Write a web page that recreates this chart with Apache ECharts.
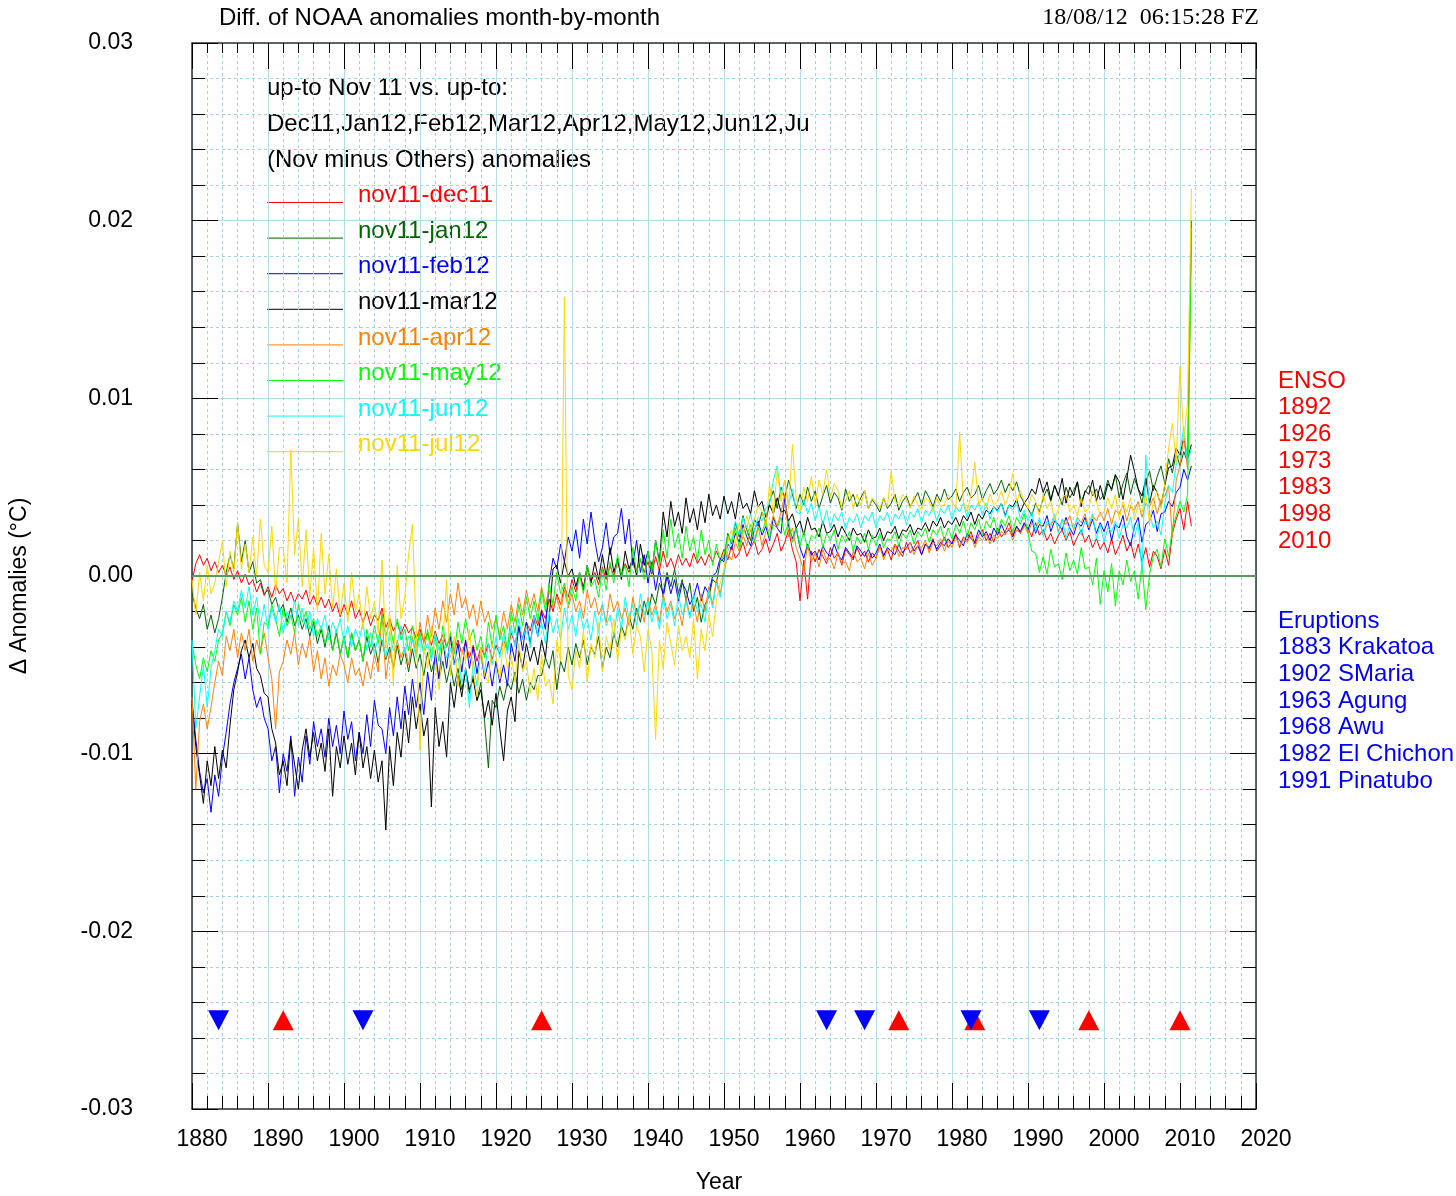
<!DOCTYPE html>
<html>
<head>
<meta charset="utf-8">
<script src="https://cdn.jsdelivr.net/npm/echarts@6/dist/echarts.min.js"></script>
<style>
html,body{margin:0;padding:0;background:#fff;}
#chart{width:1456px;height:1196px;}
</style>
</head>
<body>
<div id="chart"></div>
<script>
// Values are in units of 0.001 °C, sampled every half year from 1880.0
const startYear = 1880;
const stepYear = 0.5;

const dec11 = [
-0.3,0.7,1.2,0.6,1.0,0.3,0.8,0.2,0.6,0.0,0.5,-0.2,0.3,-0.4,0.1,-0.5,-0.2,-0.9,-0.4,-1.1,
-0.6,-1.2,-0.5,-1.0,-0.7,-1.4,-0.9,-1.5,-1.0,-1.3,-0.8,-1.6,-1.1,-1.7,-1.2,-1.8,-1.3,-2.0,-1.5,-2.3,
-1.6,-2.2,-1.4,-2.4,-1.9,-2.6,-2.0,-2.8,-2.2,-2.5,-1.8,-2.9,-2.4,-3.1,-2.6,-3.3,-2.7,-3.2,-2.9,-3.5,
-3.0,-3.7,-3.2,-3.9,-3.1,-3.8,-3.3,-4.0,-3.4,-4.2,-3.6,-4.4,-3.7,-4.6,-3.9,-4.8,-4.0,-4.5,-3.8,-4.7,
-3.9,-4.4,-3.6,-4.2,-3.2,-3.8,-2.9,-3.5,-2.6,-3.1,-2.2,-2.8,-1.9,-2.4,-1.3,-2.0,-1.0,-1.6,-0.6,-1.2,
-0.2,-0.9,0.1,-0.6,0.4,-0.3,0.2,-0.5,0.5,-0.2,0.6,0.0,0.8,0.1,0.7,0.2,1.0,0.3,0.9,0.2,
0.8,0.1,1.1,0.3,1.4,0.5,1.0,0.4,1.2,0.6,1.0,0.5,1.3,0.7,1.1,0.6,1.2,0.8,1.4,0.9,
1.5,0.9,1.7,1.0,1.3,1.9,1.1,1.6,2.0,1.2,1.5,2.1,1.3,1.8,2.4,1.4,1.9,2.6,1.5,0.8,
-1.4,0.9,-1.3,1.4,0.8,1.5,1.1,0.7,1.6,1.0,1.3,0.6,1.5,1.2,0.9,1.6,1.1,1.4,0.8,1.3,
1.0,1.7,1.2,1.5,0.9,1.8,1.4,1.1,1.9,1.3,1.6,2.0,1.2,1.8,1.5,2.1,1.4,1.7,2.2,1.6,
1.9,2.4,1.6,2.2,2.0,2.5,1.8,2.3,2.6,2.0,2.4,1.9,2.7,2.2,2.5,3.0,2.3,2.8,2.4,2.9,
2.7,2.2,3.0,2.3,2.6,2.0,2.4,1.8,2.3,2.6,2.0,2.5,1.7,2.2,2.6,1.9,2.3,1.6,2.1,1.5,
1.9,1.3,2.1,1.2,1.7,2.3,1.4,1.9,1.0,1.8,0.8,1.6,0.5,1.4,1.1,0.4,1.5,0.6,2.4,3.2,
3.8,2.6,4.2,2.8];

const jan12 = [
-1.0,-1.8,-2.4,-1.6,-3.0,-2.2,-3.2,-2.4,-1.2,0.2,1.2,0.4,3.0,0.8,2.0,0.2,0.8,-0.4,-0.2,-1.0,
-0.8,-1.6,-1.2,-2.0,-1.6,-2.6,-1.8,-2.8,-2.2,-3.0,-2.4,-3.4,-2.6,-3.8,-3.0,-4.0,-2.8,-4.2,-3.2,-4.4,
-3.4,-4.6,-3.2,-4.2,-3.6,-4.8,-3.4,-4.4,-3.8,-4.9,-3.6,-4.7,-4.0,-5.2,-3.9,-5.0,-4.2,-5.4,-4.1,-5.2,
-4.4,-5.6,-4.3,-5.4,-4.6,-5.8,-4.8,-6.0,-5.0,-6.2,-5.2,-6.4,-5.4,-6.6,-5.6,-7.0,-6.0,-8.2,-10.8,-7.0,
-7.4,-6.2,-7.0,-6.0,-6.4,-5.4,-6.6,-5.8,-7.0,-6.0,-6.4,-5.6,-5.6,-4.6,-5.2,-4.2,-6.4,-4.8,-5.4,-4.0,
-5.0,-3.8,-4.6,-3.6,-5.0,-4.0,-4.4,-3.4,-5.2,-4.0,-4.6,-3.2,-4.0,-2.8,-3.4,-2.2,-3.0,-1.8,-2.6,-1.4,
-2.2,-1.0,-1.6,-0.4,-1.0,0.2,-0.6,0.4,-1.0,-0.2,-1.4,-0.4,-2.0,-1.2,-2.6,-1.6,-1.2,-0.2,-0.4,0.8,
1.0,2.4,1.8,3.0,2.2,3.4,2.6,2.0,3.2,2.8,3.6,3.0,4.2,4.8,3.8,5.0,4.4,5.4,4.6,3.8,
4.6,4.0,5.0,4.2,4.8,3.8,4.5,5.1,4.1,4.7,4.4,3.7,4.9,4.2,4.6,3.9,4.4,4.8,3.8,4.3,
4.0,3.6,4.4,3.8,4.1,4.6,3.7,4.2,4.5,3.9,4.3,4.7,4.0,4.8,4.4,3.9,4.6,4.2,4.9,4.3,
4.5,4.9,4.2,4.7,5.0,4.4,4.6,5.1,4.3,4.8,5.2,4.6,4.9,5.4,4.7,5.2,4.8,5.3,4.5,4.1,
3.8,3.4,4.1,3.6,4.4,4.9,4.2,5.1,4.6,4.0,5.0,4.4,4.8,5.3,4.2,4.7,5.1,4.5,4.9,4.3,
4.6,5.4,4.8,5.7,4.4,5.2,5.8,4.6,5.5,4.9,4.1,5.3,5.9,4.8,5.6,6.2,5.2,6.6,5.8,6.9,
6.2,7.0,6.4,20.0];

const feb12 = [
-7.0,-9.2,-11.0,-12.2,-11.4,-13.3,-11.2,-12.4,-10.2,-8.8,-7.2,-6.0,-5.2,-4.4,-5.8,-4.6,-6.4,-7.4,-6.8,-8.0,
-8.6,-10.4,-9.6,-12.2,-10.0,-11.0,-9.0,-12.4,-10.2,-11.6,-9.0,-10.6,-8.2,-9.6,-8.6,-10.2,-8.0,-9.6,-8.4,-10.0,
-7.6,-9.2,-8.2,-10.4,-8.8,-10.0,-7.8,-9.6,-7.0,-8.4,-8.6,-10.0,-7.4,-9.0,-6.8,-8.6,-6.2,-7.8,-5.8,-7.4,
-6.0,-7.8,-5.4,-7.0,-4.2,-5.8,-3.6,-5.2,-3.4,-5.0,-3.8,-5.4,-3.6,-5.2,-4.0,-5.5,-4.2,-5.8,-4.8,-6.2,
-4.8,-6.0,-5.0,-6.2,-3.8,-4.8,-2.8,-4.2,-2.6,-3.8,-2.4,-3.4,-2.0,-3.0,-0.4,1.0,0.4,1.8,0.8,2.2,
1.4,2.6,1.0,3.2,1.8,3.6,2.0,0.8,1.6,3.0,1.2,2.2,2.4,3.8,1.8,3.2,0.6,2.0,0.2,1.2,
-0.4,0.8,-0.8,0.4,-1.2,0.0,-1.0,-0.2,-1.4,-0.4,-0.8,-1.6,-1.2,-0.4,-1.4,-0.6,-1.0,0.0,0.2,1.0,
0.8,1.8,1.5,2.4,1.9,2.9,2.2,1.7,2.6,3.1,2.3,2.8,2.0,3.3,2.7,2.4,4.4,2.8,2.1,2.7,
1.6,1.0,1.8,1.2,1.4,0.9,1.7,1.3,1.1,1.8,1.2,0.9,1.6,1.3,1.0,1.7,1.4,1.1,1.5,1.0,
1.3,1.8,1.1,1.6,1.4,1.2,1.8,1.3,1.6,1.9,1.4,1.7,1.2,1.8,1.6,2.0,1.5,1.9,1.7,2.1,
1.8,2.3,2.0,1.7,2.4,2.1,1.9,2.6,2.2,2.5,2.0,2.7,2.3,2.9,2.4,2.6,2.2,2.8,2.5,3.0,
2.6,3.2,2.4,2.9,2.8,3.4,2.5,3.1,2.9,2.6,3.3,2.7,2.3,3.0,2.8,3.3,2.6,3.2,2.4,3.0,
2.5,3.1,2.0,2.9,2.7,3.4,2.2,1.7,2.8,3.3,1.9,2.9,3.1,3.7,2.5,3.5,3.6,4.2,3.9,4.7,
5.0,6.0,5.4,6.2];

const mar12 = [
-7.2,-9.6,-11.2,-12.8,-10.4,-11.8,-9.6,-11.4,-9.8,-10.8,-8.4,-6.4,-5.4,-4.2,-3.6,-4.6,-3.8,-5.2,-5.6,-6.6,
-6.8,-8.6,-9.4,-11.2,-10.4,-11.8,-9.2,-10.6,-12.0,-9.8,-8.6,-10.2,-8.8,-10.4,-9.4,-11.0,-8.6,-12.4,-9.6,-10.8,
-9.0,-10.6,-9.4,-11.2,-8.8,-10.8,-9.6,-11.4,-9.8,-11.6,-10.4,-14.3,-9.6,-11.8,-8.8,-10.2,-7.6,-9.4,-6.8,-8.6,
-7.2,-9.0,-8.0,-13.0,-7.4,-9.6,-8.2,-10.2,-6.0,-7.4,-5.6,-6.8,-5.2,-6.4,-5.8,-7.0,-6.4,-8.0,-7.0,-8.4,
-6.6,-8.6,-10.4,-7.6,-6.8,-8.2,-4.2,-5.2,-3.8,-4.8,-4.0,-5.0,-3.6,-4.6,-2.4,0.4,0.6,-0.4,0.8,0.0,
0.4,-0.6,0.2,-0.8,0.6,-0.4,0.8,-0.2,1.2,0.0,1.6,0.2,1.0,-0.2,1.4,0.4,1.0,0.0,1.8,0.6,
1.4,0.2,2.0,0.8,3.6,2.2,4.2,2.8,3.6,2.4,4.4,3.0,3.8,2.6,4.2,3.0,4.6,3.4,4.0,3.2,
4.5,3.5,4.2,3.2,4.7,3.8,4.1,3.5,4.8,3.9,4.2,3.3,4.0,3.5,4.4,3.6,3.7,3.1,3.5,2.7,
3.1,2.3,3.3,2.6,2.7,2.2,3.1,2.4,2.5,2.9,2.2,2.8,2.4,2.0,2.7,2.3,2.4,1.9,2.6,2.1,
2.2,2.7,2.0,2.5,2.4,2.8,2.1,2.6,2.5,2.9,2.3,2.7,2.6,3.0,2.5,3.1,2.8,3.3,2.7,3.1,
2.9,3.3,2.8,3.4,3.1,3.6,2.9,3.5,3.2,3.7,3.5,3.9,3.7,4.1,3.4,4.0,3.9,4.3,3.6,4.1,
4.4,4.9,4.6,5.5,4.7,5.3,4.3,5.1,4.5,5.5,4.1,5.0,4.5,5.3,3.9,4.8,4.6,5.4,4.2,5.1,
4.3,5.2,4.9,5.7,5.3,4.3,5.5,6.8,5.9,4.9,4.5,5.5,4.1,5.1,4.7,3.9,5.1,6.1,6.2,7.2,
6.8,7.8,6.6,7.4];

const apr12 = [
-6.8,-12.0,-8.2,-7.2,-8.6,-7.4,-6.0,-4.8,-5.6,-3.4,-4.2,-3.0,-4.6,-3.2,-4.2,-3.0,-4.8,-3.6,-4.4,-3.2,
-4.6,-5.8,-8.6,-5.4,-4.8,-3.6,-4.4,-3.2,-5.0,-3.8,-4.6,-3.4,-5.4,-4.2,-5.8,-4.6,-6.2,-5.0,-5.6,-4.4,
-5.0,-6.0,-4.6,-5.6,-5.2,-6.2,-4.8,-5.8,-4.4,-5.4,-2.0,-5.8,-4.2,-5.2,-3.6,-4.6,-4.0,-5.0,-3.4,-4.4,
-2.6,-3.8,-2.2,-3.4,-1.8,-3.0,-1.4,-2.6,-1.0,-2.2,-0.4,-1.8,-1.2,-2.4,-1.6,-2.8,-1.4,-2.6,-2.0,-3.0,
-2.4,-3.4,-2.0,-3.0,-1.6,-2.6,-1.2,-2.2,-0.8,-1.8,-1.0,-2.0,-0.6,-1.6,-0.8,-1.8,-1.2,-2.0,-0.8,-1.8,
-1.0,-2.0,-1.4,-2.4,-0.8,-1.8,-1.2,-2.2,-1.6,-2.6,-1.0,-2.0,-1.4,-2.4,-1.8,-2.8,-1.2,-2.2,-1.6,-2.6,
-1.2,-2.2,-1.6,-2.6,-1.0,-2.0,-1.4,-2.4,-1.8,-2.8,-1.2,-2.2,-1.6,-2.6,-1.0,-2.0,-0.6,-1.6,-0.2,-1.0,
0.2,1.2,0.9,1.9,1.4,2.3,1.7,2.6,2.0,2.8,1.7,2.5,2.6,3.4,2.8,3.6,4.6,2.2,2.7,1.6,
1.0,0.3,1.7,0.8,1.3,0.5,1.5,0.9,1.0,0.4,1.3,0.7,0.8,0.3,1.4,0.8,1.0,0.4,1.3,0.6,
1.0,1.7,0.9,1.5,1.4,1.8,1.1,1.6,1.5,1.9,1.2,1.7,1.6,2.0,1.3,1.9,1.7,2.1,1.4,2.0,
1.6,2.2,1.7,2.0,1.9,2.3,1.6,2.2,2.0,2.4,1.8,2.3,2.1,2.5,2.3,2.7,2.0,2.6,2.4,2.8,
2.4,3.0,2.7,3.1,2.3,2.9,2.8,3.3,2.5,3.2,2.9,3.4,2.6,3.3,3.0,3.5,2.7,3.4,3.1,3.6,
3.1,3.8,2.9,3.7,3.5,4.0,3.1,3.9,3.7,4.2,3.3,4.1,3.9,4.4,3.5,4.3,4.5,5.1,2.2,5.4,
6.2,7.8,6.0,19.6];

const may12 = [
-3.8,-5.0,-5.8,-4.6,-5.4,-4.2,-4.8,-3.6,-3.2,-2.0,-2.8,-1.6,-2.2,-1.2,-2.6,-1.4,-3.0,-1.8,-4.4,-2.6,
-2.8,-1.6,-2.4,-3.4,-1.8,-2.8,-2.2,-3.2,-1.6,-2.6,-2.0,-3.0,-2.4,-3.4,-2.8,-3.8,-3.2,-4.2,-3.0,-4.4,
-3.4,-4.6,-3.2,-4.2,-3.6,-4.8,-3.0,-4.0,-2.8,-3.8,-2.2,-3.4,-2.6,-3.8,-2.4,-3.6,-3.0,-4.2,-2.8,-4.0,
-3.2,-4.4,-3.0,-4.6,-3.4,-4.8,-2.8,-4.0,-3.2,-4.4,-2.6,-3.8,-2.4,-3.6,-3.0,-4.2,-3.4,-4.6,-2.6,-4.0,
-2.2,-3.6,-2.8,-4.2,-2.0,-3.2,-1.6,-2.8,-1.2,-2.4,-1.4,-2.6,-0.8,-2.0,-0.4,-1.6,0.2,-1.0,-0.4,-1.6,
-0.6,-1.4,0.2,-1.0,0.6,-0.6,-0.2,-1.2,0.4,-0.8,0.8,-0.4,1.2,0.0,0.6,-0.6,1.6,0.2,1.0,-0.2,
1.4,0.2,2.0,0.6,2.6,1.0,3.2,1.6,2.4,1.0,2.8,1.4,2.2,0.8,2.6,1.2,2.0,0.6,1.8,0.8,
1.2,2.3,1.9,2.7,1.6,2.6,2.3,2.9,1.9,2.7,2.5,3.1,2.1,2.9,2.7,3.3,2.3,3.1,1.9,2.7,
1.7,2.5,1.5,2.3,2.1,2.7,1.6,2.4,2.0,2.6,1.5,2.3,1.9,2.5,1.4,2.2,1.8,2.4,1.5,2.3,
1.7,2.4,1.6,2.1,2.0,2.5,1.7,2.4,2.1,2.6,1.8,2.5,2.2,2.7,1.9,2.6,2.3,2.8,2.0,2.7,
2.1,2.9,2.4,3.1,2.2,3.0,2.6,3.2,2.3,3.1,2.7,3.3,2.4,3.2,2.8,3.4,2.5,3.3,2.9,3.5,
2.4,1.4,1.3,0.2,1.1,0.1,1.5,0.5,0.7,-0.2,1.3,0.3,0.9,0.1,1.6,0.4,0.5,-0.5,1.0,-1.6,
0.3,-0.9,0.7,-1.7,0.3,-0.5,0.9,-0.3,0.3,-1.3,0.7,-1.9,0.1,1.1,1.5,0.5,2.1,1.1,2.7,3.4,
4.2,3.6,4.6,18.6];

const jun12 = [
-3.6,-8.6,-6.8,-5.0,-7.4,-5.2,-4.2,-3.0,-3.4,-2.0,-2.6,-1.4,-2.0,-0.8,-1.8,-0.6,-2.2,-1.2,-2.8,-1.6,
-3.0,-1.8,-2.6,-1.6,-3.2,-2.0,-2.4,-1.4,-2.8,-1.8,-3.0,-2.0,-3.4,-2.4,-3.0,-2.2,-3.6,-2.6,-3.2,-2.4,
-3.8,-2.8,-4.0,-3.0,-3.6,-2.6,-4.2,-3.2,-4.4,-3.4,-3.6,-4.6,-3.2,-4.2,-3.8,-2.8,-4.4,-3.4,-3.6,-4.6,
-3.4,-4.4,-3.8,-4.8,-3.2,-4.2,-3.6,-4.6,-4.0,-5.0,-4.6,-6.0,-5.2,-7.4,-4.8,-6.2,-4.2,-5.4,-3.8,-5.0,
-3.4,-4.6,-3.2,-4.4,-2.8,-4.0,-2.4,-3.6,-2.8,-4.0,-2.2,-3.4,-2.6,-3.8,-2.0,-3.2,-2.4,-3.6,-1.8,-3.0,
-2.2,-3.4,-1.8,-3.0,-2.4,-3.6,-2.0,-3.2,-1.6,-2.8,-2.2,-3.4,-1.8,-3.0,-1.2,-2.4,-1.6,-2.8,-1.0,-2.2,
-1.4,-2.6,-1.8,-3.0,-1.2,-2.4,-1.6,-2.8,-1.0,-2.2,-1.4,-2.4,-1.0,-2.0,-1.6,-2.6,-0.8,-1.8,-0.4,-1.2,
0.2,1.4,2.0,3.1,2.3,3.3,2.7,3.5,2.5,3.3,3.1,3.8,4.1,5.4,6.2,4.5,5.4,4.0,4.9,3.6,
3.5,4.3,3.5,4.1,3.1,3.9,2.9,3.7,2.7,3.5,3.1,3.6,2.6,3.3,3.0,3.5,2.7,3.4,3.1,3.6,
2.7,3.4,3.1,3.6,2.8,3.5,3.2,3.7,2.9,3.6,3.3,3.8,3.0,3.7,3.4,3.9,3.1,3.8,3.5,4.0,
3.2,3.9,3.6,4.1,3.3,4.0,3.7,4.2,3.4,4.1,3.2,3.9,3.6,4.1,3.3,4.0,3.7,4.2,3.2,3.7,
3.1,3.6,2.5,3.3,2.3,3.1,2.9,3.5,2.4,3.2,2.1,2.9,2.7,3.3,2.3,3.1,2.9,3.5,2.1,2.9,
1.9,2.7,2.5,3.1,2.1,2.9,2.7,3.3,2.2,3.0,0.2,6.8,3.5,2.7,3.1,2.3,4.1,5.1,4.7,6.3,
7.0,8.4,6.4,7.2];

const jul12 = [
-0.2,-2.2,0.2,-1.4,0.6,-1.0,-0.4,0.8,2.0,-0.6,1.4,0.2,3.0,0.4,1.8,0.2,2.2,0.0,3.2,0.6,
0.2,2.8,-1.0,1.6,1.6,-0.4,7.1,1.2,3.2,-0.6,2.6,-1.2,1.6,-2.0,2.4,-1.0,1.2,-1.8,0.4,-2.2,
-0.4,-2.6,0.2,-2.0,-1.0,-3.0,-0.6,-2.4,-1.4,-3.2,0.9,-4.0,-2.0,-6.2,0.6,-2.4,-1.2,1.2,2.9,-3.0,
-9.8,-4.0,-5.2,-2.8,-4.6,-6.4,-3.8,-0.2,-5.6,-3.4,-6.2,-4.2,-4.8,-3.0,-5.4,-6.8,-4.0,-5.6,-6.0,-3.8,
-4.6,-5.8,-3.6,-5.2,-4.4,-6.0,-3.8,-5.4,-4.8,-6.6,-5.2,-7.0,-4.4,-6.2,-5.8,-7.2,-3.6,-4.8,15.7,-5.6,
-6.4,-4.2,-5.2,-3.0,-6.0,-3.8,-4.6,-2.6,-5.4,-3.4,-4.2,-2.4,-4.8,-3.0,-3.6,-2.2,-4.4,-2.8,-3.4,-5.4,
-3.0,-4.2,-9.2,-3.6,-5.2,-2.6,-3.8,-5.0,-2.8,-4.2,-3.4,-4.6,-2.4,-5.8,-3.0,-4.2,-2.2,-3.4,-1.4,-0.4,
0.4,2.0,2.6,1.8,3.0,2.2,3.4,2.6,3.2,4.0,3.6,2.8,5.2,3.4,6.0,4.2,5.4,3.8,7.4,4.4,
3.6,5.0,4.2,5.6,4.0,5.4,4.6,6.0,4.4,5.2,4.8,3.8,4.2,4.8,3.8,4.6,4.0,4.8,3.8,4.4,
4.2,3.8,4.4,3.9,5.9,4.2,4.0,4.6,4.3,3.8,4.5,4.0,3.7,4.4,4.2,3.6,4.4,3.9,4.0,4.6,
4.2,3.8,8.1,4.2,3.6,4.6,6.4,4.0,4.4,3.8,4.6,4.0,4.2,4.8,4.0,4.6,5.8,4.2,4.8,4.2,
3.8,4.6,4.2,3.4,4.6,3.8,4.2,3.2,3.8,4.4,4.6,3.6,4.0,3.4,4.4,3.6,3.8,4.8,4.2,3.4,
3.6,4.4,3.8,4.6,3.2,4.2,3.6,4.4,3.2,4.0,3.6,4.6,3.0,4.2,4.8,3.8,5.2,7.2,8.6,6.4,
11.8,7.6,9.8,21.8];

const seriesNames = ['nov11-dec11','nov11-jan12','nov11-feb12','nov11-mar12','nov11-apr12','nov11-may12','nov11-jun12','nov11-jul12'];
const seriesValues = [dec11, jan12, feb12, mar12, apr12, may12, jun12, jul12];

// Event markers (year positions)
const ensoYears = [1892, 1926, 1973, 1983, 1998, 2010];
const eruptionX = [1883.5, 1902.5, 1963.5, 1968.5, 1982.5, 1991.5];
const markerLevel = -25;

const ensoLabels = ['ENSO','1892','1926','1973','1983','1998','2010'];
const eruptionLabels = ['Eruptions','1883 Krakatoa','1902 SMaria','1963 Agung','1968 Awu','1982 El Chichon','1991 Pinatubo'];
const headerLines = ['up-to Nov 11 vs. up-to:', 'Dec11,Jan12,Feb12,Mar12,Apr12,May12,Jun12,Ju', '(Nov minus Others) anomalies'];

const colors = ['#ff0000','#006400','#0000ff','#000000','#ff8000','#00ff00','#00ffff','#ffd700'];
const FONT = "'Liberation Sans', Arial, Helvetica, sans-serif";

function toPairs(vals){
  const out = [];
  for (let i = 0; i < vals.length; i++) out.push([startYear + i*stepYear, vals[i]]);
  return out;
}

const series = seriesValues.map((vals, k) => ({
  name: seriesNames[k], type: 'line', data: toPairs(vals),
  symbol: 'none', showSymbol: false, silent: true,
  lineStyle: {width: 1, color: colors[k]}, itemStyle: {color: colors[k]},
  emphasis: {disabled: true}, z: 3
}));

series.push({
  type: 'line', data: [[1880, 0], [2020, 0]], symbol: 'none', silent: true,
  lineStyle: {width: 2, color: '#5a9a5a'}, emphasis: {disabled: true}, z: 4
});
series.push({
  type: 'scatter', data: ensoYears.map(y => [y, markerLevel]), symbol: 'triangle',
  symbolSize: [21, 20], itemStyle: {color: '#ff0000', opacity: 1}, silent: true, z: 5
});
series.push({
  type: 'scatter', data: eruptionX.map(y => [y, markerLevel]), symbol: 'triangle',
  symbolRotate: 180, symbolSize: [21, 20], itemStyle: {color: '#0000ff', opacity: 1}, silent: true, z: 6
});

const graphics = [];
function txt(x, y, text, opts){
  graphics.push(Object.assign({type:'text', x:x, y:y, silent:true, style: Object.assign({
    text: text, fill: '#000', font: '24px ' + FONT, textAlign: 'left', textVerticalAlign: 'middle'
  }, opts || {})}));
}
txt(219, 18, 'Diff. of NOAA anomalies month-by-month');
txt(1259, 18, '18/08/12  06:15:28 FZ', {textAlign:'right', font: "24px 'Liberation Serif', 'Times New Roman', serif"});
headerLines.forEach((t, i) => txt(267, 88 + 36*i, t));
seriesNames.forEach((n, i) => {
  const ty = 195.5 + 35.6*i;
  graphics.push({type:'line', silent:true, shape:{x1:267, y1:ty+7, x2:343, y2:ty+7}, style:{stroke: colors[i], lineWidth:1}});
  txt(358, ty, n, {fill: colors[i]});
});
ensoLabels.forEach((t, i) => txt(1278, 381 + 26.65*i, t, {fill:'#ff0000'}));
eruptionLabels.forEach((t, i) => txt(1278, 621 + 26.65*i, t, {fill:'#0000ff'}));
graphics.push({type:'text', x:20, y:586, rotation: Math.PI/2, silent:true,
  style:{text:'\u0394 Anomalies (\u00B0C)', fill:'#000', font:'23px ' + FONT, textAlign:'center', textVerticalAlign:'middle'}});
txt(719, 1183, 'Year', {textAlign:'center', font:'23px ' + FONT});

const gridSolid = {show:true, lineStyle:{color:'#b5dbe6', width:1}};
const gridDot = {show:true, lineStyle:{color:'#a6d3df', width:1, type:[3,3]}};
const axisLineStyle = {show:true, onZero:false, lineStyle:{color:'#333', width:1.5}};
const tickMajor = {show:true, inside:true, length:26, lineStyle:{color:'#000', width:1}};

const option = {
  animation: false,
  backgroundColor: '#fff',
  grid: {left:192, top:43, width:1064, height:1066, containLabel:false},
  xAxis: [
    {type:'value', min:1880, max:2020, interval:10, position:'bottom',
     axisLine: axisLineStyle, axisTick: tickMajor,
     minorTick:{show:true, splitNumber:5, length:13, lineStyle:{color:'#000', width:1}},
     splitLine: gridSolid, minorSplitLine: gridDot,
     axisLabel:{show:true, fontSize:23, color:'#000', fontFamily:FONT, margin:19, padding:[0,0,0,20],
       formatter: v => String(Math.round(v))}},
    {type:'value', min:1880, max:2020, interval:10, position:'top',
     axisLine: axisLineStyle, axisTick: tickMajor,
     minorTick:{show:true, splitNumber:5, length:10, lineStyle:{color:'#000', width:1}},
     splitLine:{show:false}, axisLabel:{show:false}}
  ],
  yAxis: [
    {type:'value', min:-30, max:30, interval:10, position:'left',
     axisLine: axisLineStyle, axisTick: tickMajor,
     minorTick:{show:true, splitNumber:5, length:13, lineStyle:{color:'#000', width:1}},
     splitLine: gridSolid, minorSplitLine: gridDot,
     axisLabel:{show:true, fontSize:23, color:'#000', fontFamily:FONT, margin:59,
       formatter: v => Math.abs(v) < 1e-9 ? '0.00' : (v/1000).toFixed(2)}},
    {type:'value', min:-30, max:30, interval:10, position:'right',
     axisLine: axisLineStyle, axisTick: tickMajor,
     minorTick:{show:true, splitNumber:5, length:13, lineStyle:{color:'#000', width:1}},
     splitLine:{show:false}, axisLabel:{show:false}}
  ],
  series: series,
  graphic: graphics
};

const chart = echarts.init(document.getElementById('chart'), null, {renderer:'canvas'});
chart.setOption(option);
</script>
</body>
</html>
